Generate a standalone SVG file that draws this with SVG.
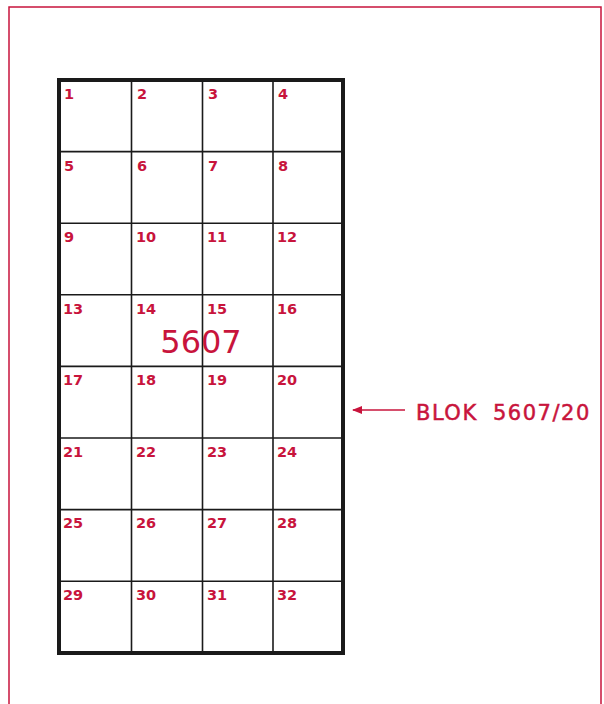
<svg xmlns="http://www.w3.org/2000/svg" width="604" height="704" viewBox="0 0 604 704">
<style>
.num{font-family:"DejaVu Sans",sans-serif;font-weight:bold;font-size:14.5px;fill:#c8143c}
.big{font-family:"DejaVu Sans",sans-serif;font-size:32px;fill:#c8143c}
.lbl{font-family:"DejaVu Sans",sans-serif;font-size:21px;fill:#c8143c;stroke:#c8143c;stroke-width:0.5;letter-spacing:1.5px}
.grid{stroke:#1a1a1a;stroke-width:1.6;fill:none}
</style>
<defs>
<marker id="ah" viewBox="0 0 10 10" refX="9" refY="5" markerWidth="10" markerHeight="10" markerUnits="userSpaceOnUse" orient="auto">
<path d="M0,1 L10,5 L0,9 Z" fill="#c8143c"/>
</marker>
</defs>
<rect width="604" height="704" fill="#ffffff"/>
<path d="M9,710 L9,7 L601,7 L601,710" fill="none" stroke="#c8143c" stroke-width="1.5"/>
<g id="block">
<g class="grid">
<line x1="131.5" y1="80" x2="131.5" y2="653"/>
<line x1="202.5" y1="80" x2="202.5" y2="653"/>
<line x1="273" y1="80" x2="273" y2="653"/>
<line x1="59" y1="151.6" x2="343" y2="151.6"/>
<line x1="59" y1="223.2" x2="343" y2="223.2"/>
<line x1="59" y1="294.8" x2="343" y2="294.8"/>
<line x1="59" y1="366.4" x2="343" y2="366.4"/>
<line x1="59" y1="438" x2="343" y2="438"/>
<line x1="59" y1="509.6" x2="343" y2="509.6"/>
<line x1="59" y1="581.2" x2="343" y2="581.2"/>
</g>
<rect x="59" y="80" width="284" height="573" fill="none" stroke="#1a1a1a" stroke-width="4"/>
<g class="num">
<text x="64" y="99">1</text><text x="137" y="99">2</text><text x="208" y="99">3</text><text x="278" y="99">4</text>
<text x="64" y="171">5</text><text x="137" y="171">6</text><text x="208" y="171">7</text><text x="278" y="171">8</text>
<text x="64" y="242">9</text><text x="136" y="242">10</text><text x="207" y="242">11</text><text x="277" y="242">12</text>
<text x="63" y="314">13</text><text x="136" y="314">14</text><text x="207" y="314">15</text><text x="277" y="314">16</text>
<text x="63" y="385">17</text><text x="136" y="385">18</text><text x="207" y="385">19</text><text x="277" y="385">20</text>
<text x="63" y="457">21</text><text x="136" y="457">22</text><text x="207" y="457">23</text><text x="277" y="457">24</text>
<text x="63" y="528">25</text><text x="136" y="528">26</text><text x="207" y="528">27</text><text x="277" y="528">28</text>
<text x="63" y="600">29</text><text x="136" y="600">30</text><text x="207" y="600">31</text><text x="277" y="600">32</text>
</g>
<text class="big" x="201" y="353" text-anchor="middle">5607</text>
</g>
<g id="connectors">
<line x1="405" y1="410" x2="353" y2="410" stroke="#c8143c" stroke-width="1.5" marker-end="url(#ah)"/>
</g>
<g id="label">
<text class="lbl" y="420"><tspan x="416">BLOK</tspan><tspan x="493">5607/20</tspan></text>
</g>
</svg>
